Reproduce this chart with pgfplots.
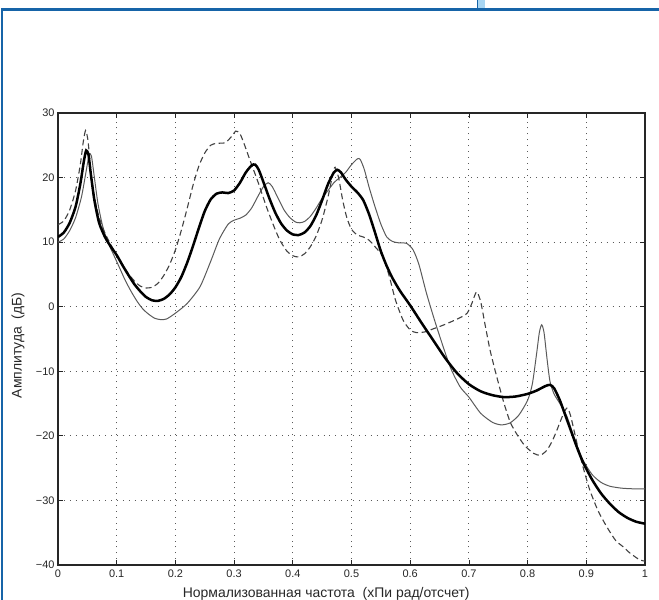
\documentclass[border=0pt]{standalone}
\usepackage{fontspec}
\setmainfont{Liberation Sans}
\usepackage{pgfplots}
\pgfplotsset{compat=1.18}
\definecolor{framecol}{RGB}{22,100,168}
\definecolor{boxcol}{RGB}{168,214,243}
\definecolor{thincol}{RGB}{90,90,90}
\definecolor{dashcol}{RGB}{65,65,65}

\pgfplotstableread{
x y
0.000 10.8
0.010 11.5
0.020 13.0
0.030 15.5
0.038 19.0
0.044 22.5
0.048 24.2
0.052 23.5
0.056 20.5
0.062 16.5
0.070 13.0
0.080 10.8
0.090 9.3
0.100 8.0
0.110 6.4
0.120 4.9
0.130 3.5
0.140 2.4
0.150 1.5
0.160 1.0
0.170 0.9
0.180 1.2
0.190 1.9
0.200 3.0
0.210 4.6
0.220 6.8
0.230 9.4
0.240 12.2
0.250 14.8
0.260 16.6
0.270 17.5
0.280 17.7
0.290 17.6
0.300 18.0
0.310 19.2
0.320 20.8
0.330 21.9
0.336 22.0
0.342 21.2
0.350 19.3
0.360 16.8
0.370 14.6
0.380 12.9
0.390 11.8
0.400 11.2
0.410 11.1
0.420 11.5
0.430 12.5
0.440 14.2
0.450 16.5
0.460 19.0
0.470 20.8
0.476 21.2
0.482 20.8
0.490 19.7
0.500 18.6
0.510 17.7
0.520 16.5
0.530 14.3
0.540 11.5
0.550 8.6
0.560 6.3
0.570 4.4
0.583 2.4
0.600 0.2
0.620 -2.6
0.640 -5.3
0.660 -8.0
0.680 -10.3
0.700 -12.0
0.720 -13.1
0.740 -13.7
0.760 -14.0
0.780 -13.9
0.800 -13.5
0.815 -13.0
0.830 -12.3
0.838 -12.1
0.845 -12.6
0.855 -14.5
0.865 -17.0
0.875 -19.5
0.885 -22.0
0.895 -24.2
0.910 -26.8
0.925 -28.9
0.940 -30.5
0.955 -31.8
0.970 -32.7
0.985 -33.3
1.000 -33.6
}\thickdata

\pgfplotstableread{
x y
0.000 10.0
0.010 10.5
0.020 11.8
0.030 13.8
0.040 17.0
0.047 20.5
0.053 23.5
0.057 23.3
0.062 20.0
0.068 16.0
0.076 12.5
0.085 10.0
0.095 8.0
0.105 6.0
0.115 4.0
0.125 2.3
0.135 0.8
0.145 -0.4
0.155 -1.2
0.165 -1.8
0.175 -2.0
0.185 -1.9
0.200 -1.0
0.220 0.5
0.242 3.1
0.260 7.0
0.275 10.5
0.290 12.8
0.300 13.4
0.310 13.7
0.320 14.2
0.330 15.3
0.340 17.0
0.350 18.6
0.358 19.2
0.365 18.6
0.375 16.8
0.385 15.0
0.395 13.8
0.405 13.1
0.412 13.0
0.420 13.2
0.430 14.0
0.440 15.3
0.450 16.8
0.460 18.0
0.470 19.2
0.480 20.0
0.490 20.8
0.500 22.0
0.510 22.9
0.515 22.8
0.522 21.2
0.530 18.5
0.540 15.5
0.550 12.8
0.560 10.8
0.570 10.1
0.580 9.9
0.594 9.8
0.605 8.8
0.615 6.5
0.628 2.0
0.645 -3.1
0.668 -9.3
0.685 -12.4
0.700 -14.0
0.720 -16.5
0.740 -17.9
0.755 -18.3
0.770 -18.0
0.785 -16.8
0.800 -14.5
0.808 -12.0
0.815 -7.5
0.820 -4.0
0.824 -2.8
0.828 -4.0
0.833 -8.0
0.838 -11.5
0.845 -13.5
0.855 -15.0
0.867 -17.0
0.880 -20.5
0.894 -23.7
0.910 -26.0
0.925 -27.2
0.940 -27.8
0.960 -28.1
0.980 -28.2
1.000 -28.2
}\thindata

\pgfplotstableread{
x y
0.000 12.7
0.010 13.3
0.020 15.0
0.030 18.0
0.038 22.0
0.043 25.5
0.047 27.3
0.051 25.8
0.055 22.0
0.060 18.0
0.068 14.5
0.078 11.8
0.090 9.6
0.100 8.0
0.110 6.5
0.120 5.1
0.130 4.0
0.140 3.2
0.150 2.9
0.160 3.0
0.170 3.6
0.180 4.8
0.190 6.5
0.200 8.8
0.210 11.8
0.220 15.2
0.230 18.8
0.240 21.8
0.250 23.8
0.260 25.0
0.270 25.3
0.285 25.4
0.295 26.3
0.303 27.2
0.310 26.8
0.318 25.0
0.327 22.7
0.340 19.5
0.355 15.5
0.368 12.4
0.378 10.3
0.390 8.6
0.400 7.9
0.410 7.7
0.420 8.2
0.430 9.3
0.440 11.0
0.450 13.5
0.460 17.0
0.468 20.5
0.472 21.6
0.478 20.0
0.485 16.5
0.492 13.8
0.500 12.0
0.510 11.1
0.520 10.8
0.530 10.3
0.540 9.3
0.554 7.7
0.565 4.5
0.575 1.0
0.588 -2.1
0.600 -3.6
0.610 -4.0
0.625 -3.9
0.640 -3.4
0.655 -2.9
0.668 -2.4
0.685 -1.7
0.697 -1.0
0.705 0.5
0.713 2.3
0.720 0.8
0.728 -3.0
0.736 -6.7
0.745 -10.0
0.758 -14.4
0.770 -17.8
0.782 -19.8
0.795 -21.5
0.810 -22.7
0.822 -23.0
0.833 -22.2
0.842 -20.8
0.850 -19.1
0.860 -16.8
0.867 -15.7
0.873 -16.8
0.884 -21.1
0.895 -25.0
0.906 -28.4
0.920 -31.6
0.935 -34.1
0.950 -36.2
0.963 -37.2
0.975 -38.2
0.991 -39.2
1.000 -39.4
}\dashdata

\begin{document}
\begin{tikzpicture}
\begin{axis}[
    scale only axis,
    width=587bp,
    height=452bp,
    xmin=0, xmax=1,
    ymin=-40, ymax=30,
    xtick={0,0.1,...,1},
    ytick={-40,-30,...,30},
    xticklabels={0,0.1,0.2,0.3,0.4,0.5,0.6,0.7,0.8,0.9,1},
    yticklabels={−40,−30,−20,−10,0,10,20,30},
    tick align=inside,
    major tick length=5bp,
    axis line style={line width=1.4bp, black!85},
    tick style={line width=0.8bp, black!85},
    grid=major,
    grid style={line width=0.9bp, black!65, dash pattern=on 0.9bp off 5bp},
    ticklabel style={font=\fontsize{11}{13}\selectfont, text=black!85},
    xticklabel style={yshift=-1bp},
    /pgf/number format/assume math mode=true,
    xlabel={Нормализованная частота~~(хПи рад/отсчет)},
    ylabel={Амплитуда~~(дБ)},
    label style={font=\fontsize{14}{16}\selectfont, text=black!85},
    xlabel style={at={(axis description cs:0.457,-0.071)}, anchor=base},
    ylabel style={at={(axis description cs:-0.068,0.486)}, anchor=center},
]
\addplot[thincol, line width=1.0bp, smooth, tension=0.4] table[x=x, y=y] {\thindata};
\addplot[dashcol, line width=1.1bp, dash pattern=on 6bp off 3.5bp, smooth, tension=0.4] table[x=x, y=y] {\dashdata};
\addplot[black, line width=2.5bp, smooth, tension=0.4] table[x=x, y=y] {\thickdata};
\end{axis}
% blue frame of the scanned page
\draw[framecol, line width=2bp] (-56bp,-40bp) -- (-56bp,555bp);
\draw[framecol, line width=3bp] (-57bp,555bp) -- (605bp,555bp);
\fill[boxcol] (419bp,556.5bp) rectangle (427bp,566bp);
\draw[framecol, line width=1bp] (419.5bp,556.5bp) -- (419.5bp,566bp);
\pgfresetboundingbox
\useasboundingbox (-58bp,-35bp) rectangle (601bp,565bp);
\end{tikzpicture}
\end{document}
